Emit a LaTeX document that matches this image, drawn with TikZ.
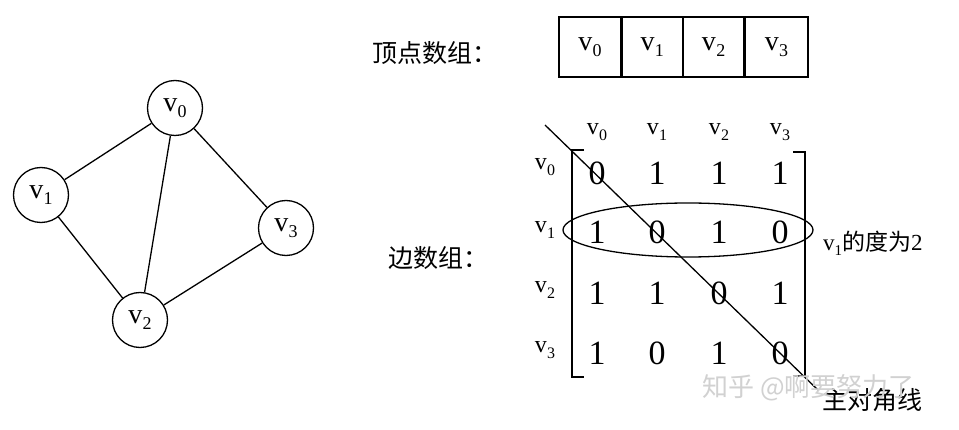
\documentclass[tikz,border=0pt]{standalone}
\usepackage{fontspec}
\setmainfont{Liberation Serif}
\newfontfamily\cjk{Noto Sans CJK SC}
\usetikzlibrary{shapes.geometric}
\newcommand\vsub[2]{\raisebox{-3pt}{v\kern0.3pt\raisebox{-0.22em}{\fontsize{#2}{#2}\selectfont #1}}}
\tikzset{
  vert/.style={circle,draw,line width=1.3pt,minimum size=55pt,inner sep=0pt,font=\fontsize{28}{28}\selectfont},
  edge/.style={line width=1.3pt},
  cell/.style={draw,line width=1.3pt,minimum width=60pt,minimum height=60pt,inner sep=0pt,font=\fontsize{28}{28}\selectfont},
  head/.style={inner sep=0pt,font=\fontsize{24}{24}\selectfont},
  entry/.style={inner sep=0pt,font=\fontsize{34}{34}\selectfont},
  cjklabel/.style={inner sep=0pt,font=\cjk\fontsize{25}{25}\selectfont},
  small/.style={inner sep=0pt,font=\fontsize{23}{23}\selectfont},
  stroke/.style={line width=1.3pt}
}
\begin{document}
\begin{tikzpicture}[x=1pt,y=-1pt]
\useasboundingbox[fill=white] (0,0) rectangle (959,430);
% graph
\node[vert] (g0) at (175,108) {\vsub{0}{18}};
\node[vert] (g1) at (41,195) {\vsub{1}{18}};
\node[vert] (g2) at (140,320) {\vsub{2}{18}};
\node[vert] (g3) at (286,228) {\vsub{3}{18}};
\draw[edge] (g0) -- (g1);
\draw[edge] (g0) -- (g2);
\draw[edge] (g0) -- (g3);
\draw[edge] (g1) -- (g2);
\draw[edge] (g2) -- (g3);
% vertex array
\node[cjklabel,anchor=west] (lab1) at (372,53) {顶点数组：};
\node[cell,minimum width=62pt] (c0) at (590,47) {\vsub{0}{18}};
\node[cell,anchor=west] (c1) at (c0.east) {\vsub{1}{18}};
\node[cell,anchor=west] (c2) at (c1.east) {\vsub{2}{18}};
\node[cell,anchor=west,minimum width=63pt] (c3) at (c2.east) {\vsub{3}{18}};
% edge matrix
\node[cjklabel,anchor=west] (lab2) at (388,258) {边数组：};
\foreach \j/\x in {0/597,1/657,2/719,3/780}{
  \node[head] (h\j) at (\x,132) {\vsub{\j}{16}};
}
\foreach \i/\y in {0/167,1/230,2/290,3/350}{
  \node[head] (r\i) at (545,\y) {\vsub{\i}{16}};
}
\foreach \i/\y/\a/\b/\c/\d in {0/173/0/1/1/1,1/232/1/0/1/0,2/293/1/1/0/1,3/353/1/0/1/0}{
  \node[entry] (m\i0) at (597,\y) {\a};
  \node[entry] (m\i1) at (657,\y) {\b};
  \node[entry] (m\i2) at (719,\y) {\c};
  \node[entry] (m\i3) at (780,\y) {\d};
}
\draw[stroke] (584,150) -- (572,150) -- (572,377) -- (584,377);
\draw[stroke] (793,152) -- (805,152) -- (805,376) -- (793,376);
\draw[stroke] (688,230) ellipse [x radius=125, y radius=27];
\coordinate (d0) at (545,125);
\coordinate (d1) at (818,390);
\draw[stroke] (d0) -- (d1);
\node[small,anchor=west] (deg) at (823,243) {v\raisebox{-0.2em}{\fontsize{15}{15}\selectfont 1}{\cjk 的度为}2};
\node[cjklabel,anchor=west,font=\cjk\fontsize{25}{25}\selectfont] (diag) at (822,400) {主对角线};
\node[cjklabel,anchor=west,text=black!18,font=\cjk\fontsize{26}{26}\selectfont] (wm) at (702,388) {知乎 @啊要努力了};
\end{tikzpicture}
\end{document}
